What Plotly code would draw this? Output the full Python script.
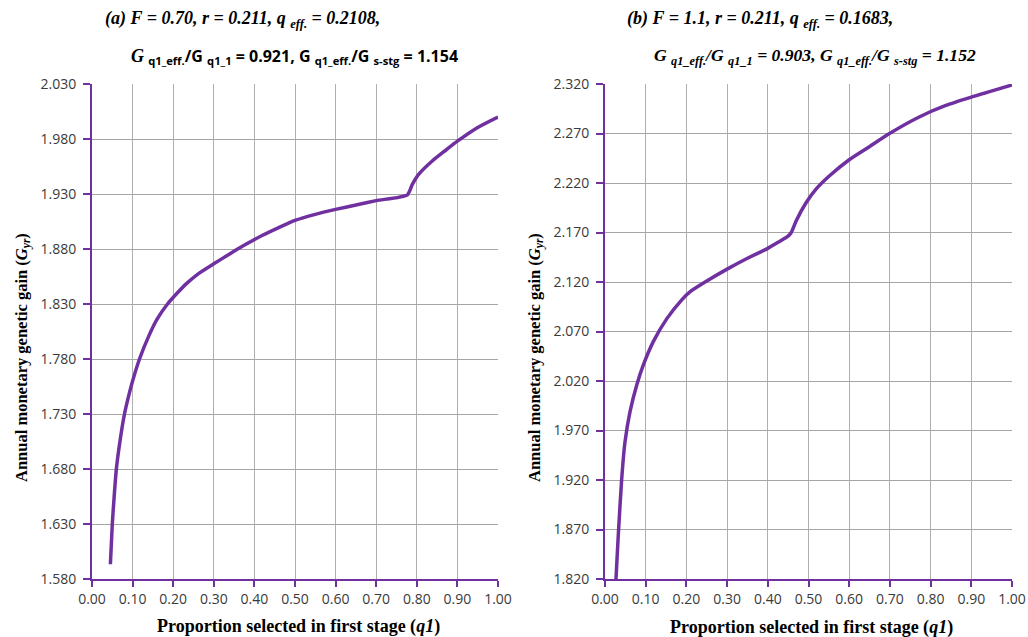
import plotly.graph_objects as go

# ---- data ----
q1_a = [0.0453, 0.050, 0.055, 0.060, 0.070, 0.080, 0.090, 0.100, 0.117, 0.140,
        0.160, 0.186, 0.210, 0.234, 0.260, 0.300, 0.341, 0.380, 0.420, 0.460,
        0.500, 0.550, 0.600, 0.650, 0.700, 0.777, 0.789, 0.805, 0.838, 0.872,
        0.900, 0.950, 1.000]
g_a = [1.5934, 1.630, 1.657, 1.680, 1.708, 1.730, 1.746, 1.760, 1.780, 1.801,
       1.816, 1.830, 1.840, 1.849, 1.857, 1.8665, 1.876, 1.8845, 1.8925, 1.8995,
       1.906, 1.9115, 1.916, 1.920, 1.9240, 1.9293, 1.9387, 1.948, 1.960, 1.970,
       1.978, 1.9905, 2.000]

q1_b = [0.025, 0.027, 0.033, 0.041, 0.049, 0.0615, 0.078, 0.094, 0.119, 0.152,
        0.1886, 0.210, 0.250, 0.300, 0.350, 0.400, 0.429, 0.449, 0.4576, 0.470,
        0.494, 0.519, 0.551, 0.600, 0.6495, 0.699, 0.772, 0.8375, 0.900, 1.000]
g_b = [1.800, 1.820, 1.867, 1.921, 1.958, 1.989, 2.016, 2.036, 2.060, 2.083,
       2.102, 2.1105, 2.121, 2.133, 2.144, 2.154, 2.161, 2.166, 2.170, 2.182,
       2.200, 2.214, 2.227, 2.2435, 2.2567, 2.270, 2.2867, 2.2983, 2.3067, 2.319]

range_a = [1.580, 2.030]
range_b = [1.820, 2.320]

x_title = "<b>Proportion selected in first stage (<i>q1</i>)</b>"
y_title = "<b>Annual monetary genetic gain (<i>G<sub>yr</sub></i>)</b>"

PURPLE = "#7030A0"
W, H = 1028, 637

fig = go.Figure()
fig.add_trace(go.Scatter(x=q1_a, y=g_a, mode="lines", xaxis="x", yaxis="y",
                         line=dict(color=PURPLE, width=3.5, shape="spline", smoothing=0.6),
                         showlegend=False))
fig.add_trace(go.Scatter(x=q1_b, y=g_b, mode="lines", xaxis="x2", yaxis="y2",
                         line=dict(color=PURPLE, width=3.5, shape="spline", smoothing=0.6),
                         showlegend=False))

tickfont = dict(family="Open Sans", size=14, color="#3a3a3a")

def xax(domain, anchor):
    return dict(domain=domain, anchor=anchor, range=[0, 1], dtick=0.1, tick0=0,
                tickformat=".2f", showgrid=True, gridcolor="#B0B0B0", gridwidth=1,
                showline=True, linecolor=PURPLE, linewidth=2, ticks="outside",
                tickcolor=PURPLE, tickwidth=2, ticklen=6, tickfont=tickfont,
                zeroline=False, automargin=False)

def yax(domain, anchor, rng):
    return dict(domain=domain, anchor=anchor, range=rng, dtick=0.05, tick0=rng[0],
                tickformat=".3f", showgrid=True, gridcolor="#A6A6A6", gridwidth=1,
                showline=True, linecolor=PURPLE, linewidth=2, ticks="outside",
                tickcolor=PURPLE, tickwidth=2, ticklen=7, tickfont=tickfont,
                ticklabelstandoff=4, zeroline=False, automargin=False)

ydom = [(H - 579) / H, (H - 84) / H]
fig.update_layout(
    width=W, height=H, margin=dict(l=0, r=0, t=0, b=0),
    paper_bgcolor="white", plot_bgcolor="white",
    xaxis=xax([92 / W, 498 / W], "y"),
    yaxis=yax(ydom, "x", range_a),
    xaxis2=xax([605 / W, 1012 / W], "y2"),
    yaxis2=yax(ydom, "x2", range_b),
)

serif = "Liberation Serif"
ann = [
    (103, 20, "<b><i>(a) F = 0.70, r = 0.211, q <sub>eff.</sub> = 0.2108,</i></b>", 18),
    (129, 56, "<b><i>G</i></b><span style='font-family:Open Sans;font-size:16px'><b> <sub>q1_eff.</sub>/G <sub>q1_1</sub> = 0.921, G <sub>q1_eff.</sub>/G <sub>s-stg</sub> = 1.154</b></span>", 18),
    (625, 20, "<b><i>(b) F = 1.1, r = 0.211, q <sub>eff.</sub> = 0.1683,</i></b>", 18),
    (652, 56, "<b><i>G <sub>q1_eff.</sub>/G <sub>q1_1</sub> = 0.903, G <sub>q1_eff.</sub>/G <sub>s-stg</sub> = 1.152</i></b>", 17.6),
]
annotations = []
for px, py, txt, sz in ann:
    annotations.append(dict(x=px / W, y=1 - py / H, xref="paper", yref="paper",
                            xanchor="left", yanchor="middle", showarrow=False,
                            text=txt, font=dict(family=serif, size=sz, color="#000")))

# axis titles
for cx, cy in [(298, 626), (811, 627)]:
    annotations.append(dict(x=cx / W, y=1 - cy / H, xref="paper", yref="paper",
                            xanchor="center", yanchor="middle", showarrow=False,
                            text=x_title, font=dict(family=serif, size=18, color="#000")))
for cx, cy in [(22, 358), (535, 358)]:
    annotations.append(dict(x=cx / W, y=1 - cy / H, xref="paper", yref="paper",
                            xanchor="center", yanchor="middle", showarrow=False,
                            textangle=-90, text=y_title,
                            font=dict(family=serif, size=16.5, color="#000")))
fig.update_layout(annotations=annotations)

fig.write_html("out.html", post_script="document.body.style.margin='0px';",
               config={"displayModeBar": False})
